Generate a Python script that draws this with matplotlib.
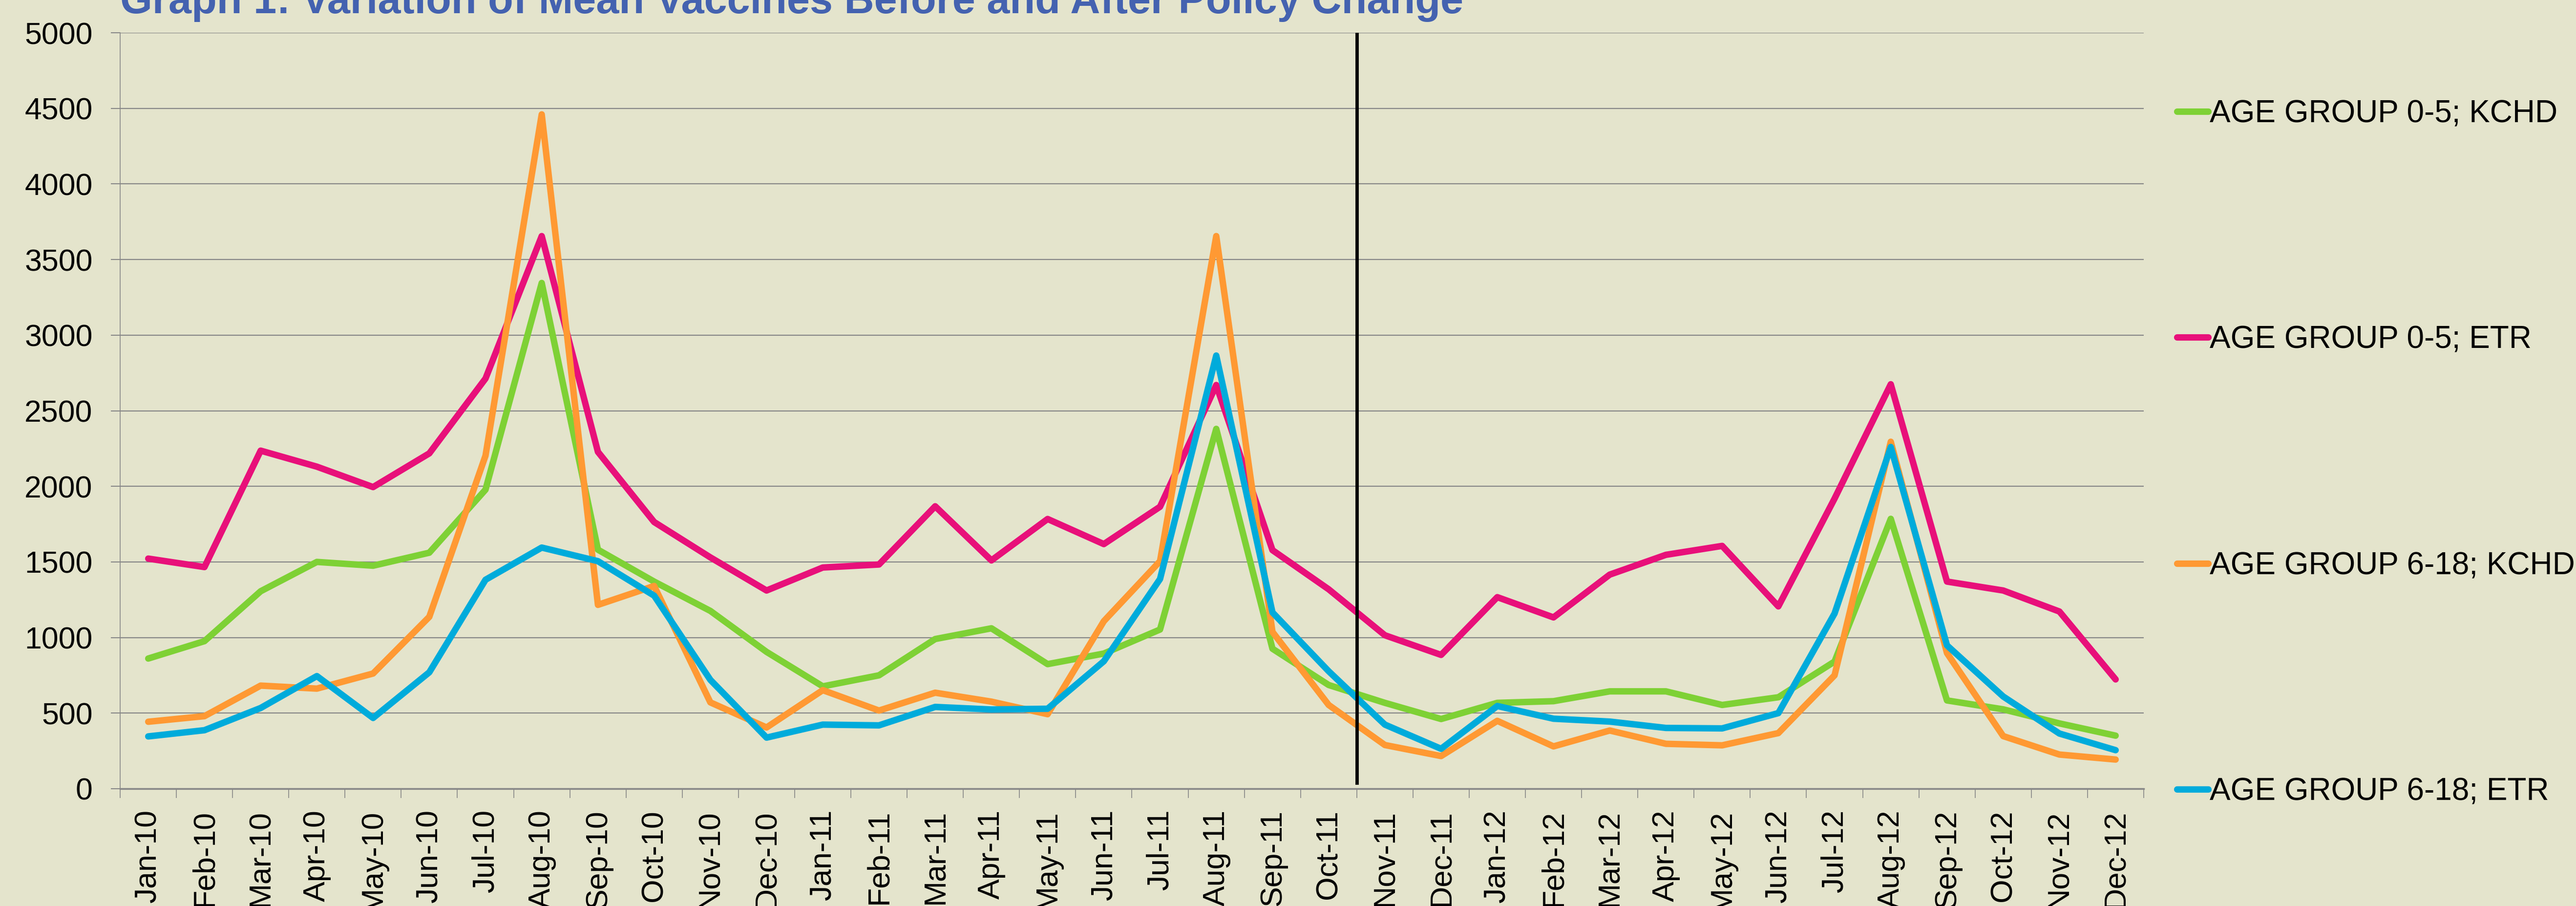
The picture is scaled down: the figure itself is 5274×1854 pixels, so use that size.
import matplotlib
matplotlib.use("Agg")
import matplotlib.pyplot as plt

plt.rcParams['font.family'] = ['Liberation Sans', 'DejaVu Sans']

# -------------------------
# DATA
# -------------------------
months = [
    "Jan-10", "Feb-10", "Mar-10", "Apr-10", "May-10", "Jun-10",
    "Jul-10", "Aug-10", "Sep-10", "Oct-10", "Nov-10", "Dec-10",
    "Jan-11", "Feb-11", "Mar-11", "Apr-11", "May-11", "Jun-11",
    "Jul-11", "Aug-11", "Sep-11", "Oct-11", "Nov-11", "Dec-11",
    "Jan-12", "Feb-12", "Mar-12", "Apr-12", "May-12", "Jun-12",
    "Jul-12", "Aug-12", "Sep-12", "Oct-12", "Nov-12", "Dec-12",
]

kchd_0_5 = [
    861, 976, 1306, 1500, 1475, 1561, 1978, 3345, 1581, 1370, 1176, 905,
    677, 750, 990, 1061, 824, 894, 1053, 2380, 926, 686, 568, 461,
    568, 579, 644, 644, 554, 605, 841, 1785, 584, 525, 432, 351,
]
etr_0_5 = [
    1522, 1466, 2236, 2130, 1995, 2218, 2713, 3655, 2228, 1764, 1530, 1311,
    1463, 1483, 1868, 1510, 1784, 1618, 1865, 2670, 1578, 1319, 1015, 885,
    1267, 1133, 1416, 1547, 1606, 1206, 1919, 2675, 1370, 1311, 1172, 723,
]
kchd_6_18 = [
    443, 480, 682, 662, 762, 1137, 2203, 4460, 1216, 1341, 571, 405,
    652, 517, 635, 576, 493, 1108, 1505, 3655, 1037, 554, 289, 216,
    449, 280, 385, 297, 287, 368, 750, 2295, 897, 348, 226, 193,
]
etr_6_18 = [
    346, 387, 534, 745, 468, 770, 1382, 1595, 1505, 1277, 720, 338,
    424, 419, 541, 524, 529, 843, 1387, 2865, 1166, 777, 424, 264,
    547, 463, 444, 402, 399, 500, 1159, 2260, 948, 610, 365, 255,
]

series_labels = [
    "AGE GROUP 0-5; KCHD",
    "AGE GROUP 0-5; ETR",
    "AGE GROUP 6-18; KCHD",
    "AGE GROUP 6-18; ETR",
]
series_colors = ["#7ED135", "#E8107A", "#FF9933", "#00ABDB"]
y_ticks = [0, 500, 1000, 1500, 2000, 2500, 3000, 3500, 4000, 4500, 5000]

policy_change_after = "Oct-11"

bg = "#E4E4CC"
grid_gray = "#878787"

# -------------------------
# FIGURE
# -------------------------
fig = plt.figure(figsize=(52.74, 18.54), dpi=100)
fig.patch.set_facecolor(bg)
ax = fig.add_axes([0.04664, 0.12945, 0.78555, 0.83441])
ax.set_facecolor(bg)

x = list(range(len(months)))
for vals, label, color in zip([kchd_0_5, etr_0_5, kchd_6_18, etr_6_18],
                              series_labels, series_colors):
    ax.plot(x, vals, color=color, linewidth=9.5, label=label,
            solid_joinstyle="round", solid_capstyle="round")

# policy change marker
change_x = months.index(policy_change_after) + 0.5
ax.axvline(change_x, ymin=0.008, ymax=1.0, color="black", linewidth=5, zorder=5)

# axes
ax.set_xlim(-0.5, len(months) - 0.5)
ax.set_ylim(0, 5000)
ax.set_yticks(y_ticks)
ax.set_yticklabels([str(v) for v in y_ticks])
ax.set_xticks(x)
ax.set_xticklabels(months, rotation=90)
ax.set_xticks([i - 0.5 for i in range(len(months) + 1)], minor=True)

ax.tick_params(axis="x", which="major", length=0, pad=31, labelsize=45, colors="black")
ax.tick_params(axis="x", which="minor", length=13.5, width=1.2, color=grid_gray)
ax.tick_params(axis="y", which="major", length=13.5, width=1.5, color=grid_gray,
               pad=27, labelsize=45, labelcolor="black")

ax.yaxis.grid(True, color=grid_gray, linewidth=1.6)
ax.set_axisbelow(True)

for side in ["top", "right"]:
    ax.spines[side].set_visible(False)
ax.spines["left"].set_color(grid_gray)
ax.spines["left"].set_linewidth(1.2)
ax.spines["bottom"].set_color(grid_gray)
ax.spines["bottom"].set_linewidth(2.5)

# legend
ax.legend(loc="center left", bbox_to_anchor=(0.8451, 0.5),
          bbox_transform=fig.transFigure, frameon=False, fontsize=46,
          handlelength=1.0, handletextpad=0.05, labelspacing=6.3,
          borderpad=0, borderaxespad=0)

# title (partly cut off at top, as in the reference)
fig.text(0.04664, 1 - 27 / 1854,
         "Graph 1: Variation of Mean Vaccines Before and After Policy Change",
         fontsize=61, fontweight="bold", color="#4462B0",
         ha="left", va="baseline")

fig.savefig("out.png", dpi=100, facecolor=fig.get_facecolor())
